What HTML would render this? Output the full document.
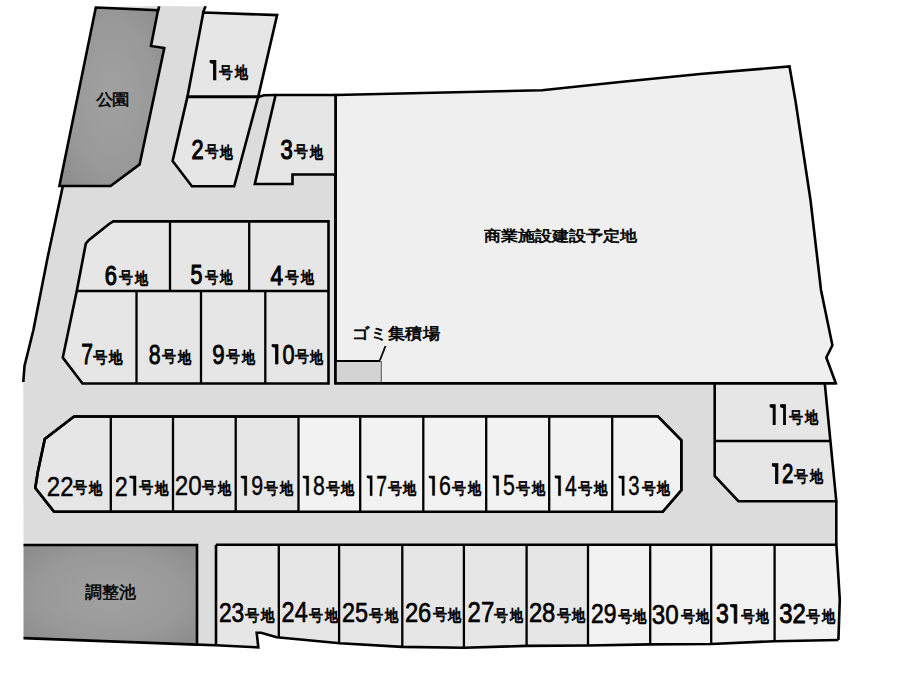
<!DOCTYPE html>
<html><head><meta charset="utf-8"><style>
html,body{margin:0;padding:0;background:#fff;width:900px;height:673px;overflow:hidden}
svg{display:block}
text{font-family:"Liberation Sans", sans-serif;fill:#000} path{fill:#000}
</style></head><body>
<svg width="900" height="673" viewBox="0 0 900 673">
<defs><radialGradient id="gd" cx="0.5" cy="0.5" r="0.7"><stop offset="0" stop-color="#a1a1a1"/><stop offset="0.6" stop-color="#999999"/><stop offset="1" stop-color="#8a8a8a"/></radialGradient></defs>
<rect x="875" y="0" width="25" height="673" fill="#fefefe"/>
<polygon points="159,6 206,6.5 187.4,96.9 258.2,96.9 264,95.3 335.5,95.0 335.5,383 824.8,383 836.3,501.2 836.3,544.8 216,544.8 216,645.3 197,645.3 197,545 23.5,545 23.3,382 24.5,366 33.4,330 47.5,258 62.8,186 96,7" fill="#dcdcdc"/>
<polyline points="62.8,186.3 47.5,258 33.4,330 24.5,366 23.3,382" fill="none" stroke="#000" stroke-width="2.6" stroke-linejoin="miter" stroke-miterlimit="3" stroke-linecap="butt"/>
<polyline points="836.3,501.2 836.3,544.5" fill="none" stroke="#000" stroke-width="2.6" stroke-linejoin="miter" stroke-miterlimit="3" stroke-linecap="butt"/>
<polygon points="95.8,7.5 158,10.2 151,46 164.3,48 139.6,164.4 110.6,186 59.4,186" fill="url(#gd)" stroke="#000" stroke-width="2.6" stroke-linejoin="miter" stroke-miterlimit="3" />
<polyline points="157.6,12 159.2,6.3" fill="none" stroke="#000" stroke-width="2.6" stroke-linejoin="miter" stroke-miterlimit="3" stroke-linecap="butt"/>
<polygon points="335.5,95.0 542,90.3 620,82 700,74 789.5,66.5 795.6,101.6 810.5,200 821,290 832.4,345.3 826.3,357.5 835.8,383.3 335.5,383.3" fill="#efefef" stroke="#000" stroke-width="2.6" stroke-linejoin="miter" stroke-miterlimit="3" />
<polygon points="336,361 381.3,361 381.3,382 336,382" fill="#d2d2d2" stroke="none"/>
<polyline points="336,361 380.5,361" fill="none" stroke="#000" stroke-width="2.0" stroke-linejoin="miter" stroke-miterlimit="3" stroke-linecap="butt"/>
<line x1="381.3" y1="361" x2="381.3" y2="382" stroke="#555" stroke-width="1"/>
<polygon points="379,360 381,360 386.5,346 384.5,346" fill="#111"/>
<polyline points="335.5,95.0 335.5,383.3 835.8,383.3" fill="none" stroke="#000" stroke-width="2.6" stroke-linejoin="miter" stroke-miterlimit="3" stroke-linecap="butt"/>
<polygon points="203.3,12.5 277.1,15.1 258.2,96.9 187.4,96.9" fill="#e6e6e6" stroke="#000" stroke-width="2.6" stroke-linejoin="miter" stroke-miterlimit="3" />
<polyline points="205.6,6.3 202.8,13" fill="none" stroke="#000" stroke-width="2.6" stroke-linejoin="miter" stroke-miterlimit="3" stroke-linecap="butt"/>
<polygon points="187.4,96.9 258.2,96.9 234.2,186.3 191.9,186.3 172.6,161" fill="#e6e6e6" stroke="#000" stroke-width="2.6" stroke-linejoin="miter" stroke-miterlimit="3" />
<polygon points="275.6,95.0 335.5,95.0 335.5,174.5 292.5,174.5 292.5,184 254.8,184" fill="#e6e6e6" stroke="#000" stroke-width="2.6" stroke-linejoin="miter" stroke-miterlimit="3" />
<polyline points="258.2,96.9 264,95.3 275.6,95.0" fill="none" stroke="#000" stroke-width="2.6" stroke-linejoin="miter" stroke-miterlimit="3" stroke-linecap="butt"/>
<polygon points="113.3,221.4 328.5,221.4 328.5,383.5 82.5,383.5 62.8,357.6 76.8,290.7 85.8,243.7 89,240 110,223.3" fill="#e6e6e6" stroke="#000" stroke-width="2.6" stroke-linejoin="miter" stroke-miterlimit="3" />
<polyline points="76.8,291 328.5,291" fill="none" stroke="#000" stroke-width="2.3" stroke-linejoin="miter" stroke-miterlimit="3" stroke-linecap="butt"/>
<polyline points="170,221.4 170,291" fill="none" stroke="#000" stroke-width="2.3" stroke-linejoin="miter" stroke-miterlimit="3" stroke-linecap="butt"/>
<polyline points="249.2,221.4 249.2,291" fill="none" stroke="#000" stroke-width="2.3" stroke-linejoin="miter" stroke-miterlimit="3" stroke-linecap="butt"/>
<polyline points="136.5,291 136.5,383.5" fill="none" stroke="#000" stroke-width="2.3" stroke-linejoin="miter" stroke-miterlimit="3" stroke-linecap="butt"/>
<polyline points="201,291 201,383.5" fill="none" stroke="#000" stroke-width="2.3" stroke-linejoin="miter" stroke-miterlimit="3" stroke-linecap="butt"/>
<polyline points="265.3,291 265.3,383.5" fill="none" stroke="#000" stroke-width="2.3" stroke-linejoin="miter" stroke-miterlimit="3" stroke-linecap="butt"/>
<polygon points="714.7,383.5 824.8,383.5 836.3,501.2 738.4,501.2 714.7,476" fill="#e6e6e6" stroke="#000" stroke-width="2.6" stroke-linejoin="miter" stroke-miterlimit="3" />
<polyline points="714.7,441 830.6,441" fill="none" stroke="#000" stroke-width="2.3" stroke-linejoin="miter" stroke-miterlimit="3" stroke-linecap="butt"/>
<polygon points="74,416.5 658,416.5 681.3,440.4 681.3,490.2 662.7,511.7 54,511.7 35.3,488 37.8,472 44.8,439" fill="#e6e6e6" stroke="#000" stroke-width="2.6" stroke-linejoin="miter" stroke-miterlimit="3" />
<polygon points="298.5,416.5 658,416.5 681.3,440.4 681.3,490.2 662.7,511.7 298.5,511.7" fill="#f2f2f2"/>
<polyline points="74,416.5 658,416.5 681.3,440.4 681.3,490.2 662.7,511.7 54,511.7 35.3,488 37.8,472 44.8,439 74,416.5" fill="none" stroke="#000" stroke-width="2.6" stroke-linejoin="miter" stroke-miterlimit="3" stroke-linecap="butt"/>
<polyline points="110.8,416.5 110.8,511.7" fill="none" stroke="#000" stroke-width="2.3" stroke-linejoin="miter" stroke-miterlimit="3" stroke-linecap="butt"/>
<polyline points="173,416.5 173,511.7" fill="none" stroke="#000" stroke-width="2.3" stroke-linejoin="miter" stroke-miterlimit="3" stroke-linecap="butt"/>
<polyline points="235.7,416.5 235.7,511.7" fill="none" stroke="#000" stroke-width="2.3" stroke-linejoin="miter" stroke-miterlimit="3" stroke-linecap="butt"/>
<polyline points="298.5,416.5 298.5,511.7" fill="none" stroke="#000" stroke-width="2.3" stroke-linejoin="miter" stroke-miterlimit="3" stroke-linecap="butt"/>
<polyline points="360.2,416.5 360.2,511.7" fill="none" stroke="#000" stroke-width="2.3" stroke-linejoin="miter" stroke-miterlimit="3" stroke-linecap="butt"/>
<polyline points="423.3,416.5 423.3,511.7" fill="none" stroke="#000" stroke-width="2.3" stroke-linejoin="miter" stroke-miterlimit="3" stroke-linecap="butt"/>
<polyline points="486.2,416.5 486.2,511.7" fill="none" stroke="#000" stroke-width="2.3" stroke-linejoin="miter" stroke-miterlimit="3" stroke-linecap="butt"/>
<polyline points="549.2,416.5 549.2,511.7" fill="none" stroke="#000" stroke-width="2.3" stroke-linejoin="miter" stroke-miterlimit="3" stroke-linecap="butt"/>
<polyline points="612.2,416.5 612.2,511.7" fill="none" stroke="#000" stroke-width="2.3" stroke-linejoin="miter" stroke-miterlimit="3" stroke-linecap="butt"/>
<polygon points="23.5,545 197,545 197,645.3 23.5,638.1" fill="url(#gd)"/>
<polyline points="23.5,545 197,545 197,645.3" fill="none" stroke="#000" stroke-width="2.6" stroke-linejoin="miter" stroke-miterlimit="3" stroke-linecap="butt"/>
<polygon points="216,544.8 278.8,544.8 278.8,637.4990521327014 276.7,637.3 261.1,632.8 256.7,632.8 258.3,647.4 216,645.1482815057284" fill="#e6e6e6"/>
<polygon points="278.8,544.8 339.1,544.8 339.1,643.214691943128 278.8,637.4990521327014" fill="#e6e6e6"/>
<polygon points="339.1,544.8 402.3,544.8 402.3,646.9012965964343 402.2,646.9 340,643.3 339.1,643.214691943128" fill="#e6e6e6"/>
<polygon points="402.3,544.8 463.9,544.8 463.9,647.7 402.3,646.9012965964343" fill="#e6e6e6"/>
<polygon points="463.9,544.8 526.6,544.8 526.6,645.9 463.9,647.7" fill="#e6e6e6"/>
<polygon points="526.6,544.8 588.0,544.8 588.0,645.5 526.6,645.9" fill="#e6e6e6"/>
<polygon points="588.0,544.8 650.2,544.8 650.2,644.4 588.0,645.5" fill="#f2f2f2"/>
<polygon points="650.2,544.8 711.2,544.8 711.2,644.0 650.2,644.4" fill="#f2f2f2"/>
<polygon points="711.2,544.8 774.6,544.8 774.6,641.2 711.2,644.0" fill="#f2f2f2"/>
<polygon points="774.6,544.8 836.4,544.8 839.8,599.5 838.4,640 774.6,641.2" fill="#f2f2f2"/>
<polyline points="216,544.8 836.4,544.8 839.8,599.5 838.4,640" fill="none" stroke="#000" stroke-width="2.6" stroke-linejoin="miter" stroke-miterlimit="3" stroke-linecap="butt"/>
<polyline points="278.8,544.8 278.8,637.4990521327014" fill="none" stroke="#000" stroke-width="2.3" stroke-linejoin="miter" stroke-miterlimit="3" stroke-linecap="butt"/>
<polyline points="339.1,544.8 339.1,643.214691943128" fill="none" stroke="#000" stroke-width="2.3" stroke-linejoin="miter" stroke-miterlimit="3" stroke-linecap="butt"/>
<polyline points="402.3,544.8 402.3,646.9012965964343" fill="none" stroke="#000" stroke-width="2.3" stroke-linejoin="miter" stroke-miterlimit="3" stroke-linecap="butt"/>
<polyline points="463.9,544.8 463.9,647.7" fill="none" stroke="#000" stroke-width="2.3" stroke-linejoin="miter" stroke-miterlimit="3" stroke-linecap="butt"/>
<polyline points="526.6,544.8 526.6,645.9" fill="none" stroke="#000" stroke-width="2.3" stroke-linejoin="miter" stroke-miterlimit="3" stroke-linecap="butt"/>
<polyline points="588.0,544.8 588.0,645.5" fill="none" stroke="#000" stroke-width="2.3" stroke-linejoin="miter" stroke-miterlimit="3" stroke-linecap="butt"/>
<polyline points="650.2,544.8 650.2,644.4" fill="none" stroke="#000" stroke-width="2.3" stroke-linejoin="miter" stroke-miterlimit="3" stroke-linecap="butt"/>
<polyline points="711.2,544.8 711.2,644.0" fill="none" stroke="#000" stroke-width="2.3" stroke-linejoin="miter" stroke-miterlimit="3" stroke-linecap="butt"/>
<polyline points="774.6,544.8 774.6,641.2" fill="none" stroke="#000" stroke-width="2.3" stroke-linejoin="miter" stroke-miterlimit="3" stroke-linecap="butt"/>
<polyline points="216,544.8 216,645.1482815057284" fill="none" stroke="#000" stroke-width="2.6" stroke-linejoin="miter" stroke-miterlimit="3" stroke-linecap="butt"/>
<polyline points="23.5,638.1 190,644.4 215.6,645.2 258.3,647.4 256.7,632.8 261.1,632.8 276.7,637.3 340,643.3 402.2,646.9 463.9,647.7 526.6,645.9 588,645.5 650.2,644.4 711.2,644 774.6,641.2 838.4,640" fill="none" stroke="#000" stroke-width="2.6" stroke-linejoin="miter" stroke-miterlimit="3" stroke-linecap="butt"/>
<g transform="translate(208.44,79.74) scale(0.7021,0.9269)"><g transform="translate(0.00,0)" stroke="#000" stroke-width="1.2"><path d="M2.4,-20.7 L10.6,-20.7 L10.6,0 L7.2,0 L7.2,-17.6 L2.4,-18.6 Z"/></g></g>
<text transform="translate(219.38,78.06) scale(0.8114,0.9387)" font-size="17" stroke="#000" stroke-width="0.8">号</text>
<text transform="translate(234.74,78.41) scale(0.7711,0.9524)" font-size="17" stroke="#000" stroke-width="1.0">地</text>
<g transform="translate(191.55,159.14) scale(0.7248,0.9412)"><text x="0.00" y="0" font-size="30" stroke="#000" stroke-width="1.2">2</text></g>
<text transform="translate(205.08,157.46) scale(0.8000,0.9387)" font-size="17" stroke="#000" stroke-width="0.8">号</text>
<text transform="translate(220.22,157.81) scale(0.7605,0.9524)" font-size="17" stroke="#000" stroke-width="1.0">地</text>
<g transform="translate(280.56,158.87) scale(0.7338,0.9241)"><text x="0.00" y="0" font-size="30" stroke="#000" stroke-width="1.2">3</text></g>
<text transform="translate(294.08,157.46) scale(0.8200,0.9387)" font-size="17" stroke="#000" stroke-width="0.8">号</text>
<text transform="translate(309.60,157.81) scale(0.7790,0.9524)" font-size="17" stroke="#000" stroke-width="1.0">地</text>
<g transform="translate(270.43,284.55) scale(0.7485,0.9087)"><text x="0.00" y="0" font-size="30" stroke="#000" stroke-width="1.2">4</text></g>
<text transform="translate(285.28,282.86) scale(0.8200,0.9387)" font-size="17" stroke="#000" stroke-width="0.8">号</text>
<text transform="translate(300.80,283.21) scale(0.7790,0.9524)" font-size="17" stroke="#000" stroke-width="1.0">地</text>
<g transform="translate(190.57,284.48) scale(0.7143,0.9144)"><text x="0.00" y="0" font-size="30" stroke="#000" stroke-width="1.2">5</text></g>
<text transform="translate(205.38,283.06) scale(0.7829,0.9387)" font-size="17" stroke="#000" stroke-width="0.8">号</text>
<text transform="translate(220.19,283.41) scale(0.7445,0.9524)" font-size="17" stroke="#000" stroke-width="1.0">地</text>
<g transform="translate(104.64,284.66) scale(0.7285,0.9286)"><text x="0.00" y="0" font-size="30" stroke="#000" stroke-width="1.2">6</text></g>
<text transform="translate(119.38,283.26) scale(0.8200,0.9387)" font-size="17" stroke="#000" stroke-width="0.8">号</text>
<text transform="translate(134.90,283.61) scale(0.7790,0.9524)" font-size="17" stroke="#000" stroke-width="1.0">地</text>
<g transform="translate(81.16,364.46) scale(0.7055,0.9769)"><text x="0.00" y="0" font-size="30" stroke="#000" stroke-width="0.9">7</text></g>
<text transform="translate(92.78,362.66) scale(0.8486,0.9387)" font-size="17" stroke="#000" stroke-width="0.8">号</text>
<text transform="translate(108.84,363.01) scale(0.8056,0.9524)" font-size="17" stroke="#000" stroke-width="1.0">地</text>
<g transform="translate(148.69,364.00) scale(0.7133,0.9367)"><text x="0.00" y="0" font-size="30" stroke="#000" stroke-width="0.9">8</text></g>
<text transform="translate(162.38,362.46) scale(0.8286,0.9387)" font-size="17" stroke="#000" stroke-width="0.8">号</text>
<text transform="translate(178.06,362.81) scale(0.7870,0.9524)" font-size="17" stroke="#000" stroke-width="1.0">地</text>
<g transform="translate(212.29,364.00) scale(0.7432,0.9367)"><text x="0.00" y="0" font-size="30" stroke="#000" stroke-width="0.9">9</text></g>
<text transform="translate(226.08,362.46) scale(0.8200,0.9387)" font-size="17" stroke="#000" stroke-width="0.8">号</text>
<text transform="translate(241.60,362.81) scale(0.7790,0.9524)" font-size="17" stroke="#000" stroke-width="1.0">地</text>
<g transform="translate(270.28,364.00) scale(0.7269,0.9367)"><g transform="translate(0.00,0)" stroke="#000" stroke-width="0.9"><path d="M2.4,-20.7 L10.6,-20.7 L10.6,0 L7.2,0 L7.2,-17.6 L2.4,-18.6 Z"/></g><text x="16.68" y="0" font-size="30" stroke="#000" stroke-width="0.9">0</text></g>
<text transform="translate(294.78,362.46) scale(0.8171,0.9387)" font-size="17" stroke="#000" stroke-width="0.8">号</text>
<text transform="translate(310.25,362.81) scale(0.7764,0.9524)" font-size="17" stroke="#000" stroke-width="1.0">地</text>
<g transform="translate(768.58,424.34) scale(0.6250,0.9406)"><g transform="translate(0.00,0)" stroke="#000" stroke-width="1.2"><path d="M2.4,-20.7 L10.6,-20.7 L10.6,0 L7.2,0 L7.2,-17.6 L2.4,-18.6 Z"/></g><g transform="translate(16.68,0)" stroke="#000" stroke-width="1.2"><path d="M2.4,-20.7 L10.6,-20.7 L10.6,0 L7.2,0 L7.2,-17.6 L2.4,-18.6 Z"/></g></g>
<text transform="translate(789.28,422.66) scale(0.8314,0.9387)" font-size="17" stroke="#000" stroke-width="0.8">号</text>
<text transform="translate(805.02,423.01) scale(0.7897,0.9524)" font-size="17" stroke="#000" stroke-width="1.0">地</text>
<g transform="translate(770.67,483.33) scale(0.6812,0.9457)"><g transform="translate(0.00,0)" stroke="#000" stroke-width="1.2"><path d="M2.4,-20.7 L10.6,-20.7 L10.6,0 L7.2,0 L7.2,-17.6 L2.4,-18.6 Z"/></g><text x="16.68" y="0" font-size="30" stroke="#000" stroke-width="1.2">2</text></g>
<text transform="translate(794.38,481.66) scale(0.8229,0.9387)" font-size="17" stroke="#000" stroke-width="0.8">号</text>
<text transform="translate(809.95,482.01) scale(0.7817,0.9524)" font-size="17" stroke="#000" stroke-width="1.0">地</text>
<g transform="translate(46.76,495.51) scale(0.8025,0.9484)"><text x="0.00" y="0" font-size="30" stroke="#000" stroke-width="0.4">2</text><text x="16.68" y="0" font-size="30" stroke="#000" stroke-width="0.4">2</text></g>
<text transform="translate(73.28,493.46) scale(0.8286,0.9387)" font-size="17" stroke="#000" stroke-width="0.8">号</text>
<text transform="translate(88.96,493.81) scale(0.7870,0.9524)" font-size="17" stroke="#000" stroke-width="1.0">地</text>
<g transform="translate(114.79,495.51) scale(0.7792,0.9484)"><text x="0.00" y="0" font-size="30" stroke="#000" stroke-width="0.4">2</text><g transform="translate(16.68,0)" stroke="#000" stroke-width="0.4"><path d="M2.4,-20.7 L10.6,-20.7 L10.6,0 L7.2,0 L7.2,-17.6 L2.4,-18.6 Z"/></g></g>
<text transform="translate(138.98,493.46) scale(0.8457,0.9387)" font-size="17" stroke="#000" stroke-width="0.8">号</text>
<text transform="translate(154.99,493.81) scale(0.8029,0.9524)" font-size="17" stroke="#000" stroke-width="1.0">地</text>
<g transform="translate(174.75,495.23) scale(0.8076,0.9352)"><text x="0.00" y="0" font-size="30" stroke="#000" stroke-width="0.4">2</text><text x="16.68" y="0" font-size="30" stroke="#000" stroke-width="0.4">0</text></g>
<text transform="translate(202.38,493.46) scale(0.8257,0.9387)" font-size="17" stroke="#000" stroke-width="0.8">号</text>
<text transform="translate(218.01,493.81) scale(0.7844,0.9524)" font-size="17" stroke="#000" stroke-width="1.0">地</text>
<g transform="translate(239.23,495.43) scale(0.7138,0.9444)"><g transform="translate(0.00,0)" stroke="#000" stroke-width="0.4"><path d="M2.4,-20.7 L10.6,-20.7 L10.6,0 L7.2,0 L7.2,-17.6 L2.4,-18.6 Z"/></g><text x="16.68" y="0" font-size="30" stroke="#000" stroke-width="0.4">9</text></g>
<text transform="translate(264.28,493.66) scale(0.8286,0.9387)" font-size="17" stroke="#000" stroke-width="0.8">号</text>
<text transform="translate(279.96,494.01) scale(0.7870,0.9524)" font-size="17" stroke="#000" stroke-width="1.0">地</text>
<g transform="translate(301.23,495.43) scale(0.7114,0.9444)"><g transform="translate(0.00,0)" stroke="#000" stroke-width="0.4"><path d="M2.4,-20.7 L10.6,-20.7 L10.6,0 L7.2,0 L7.2,-17.6 L2.4,-18.6 Z"/></g><text x="16.68" y="0" font-size="30" stroke="#000" stroke-width="0.4">8</text></g>
<text transform="translate(325.58,493.66) scale(0.8286,0.9387)" font-size="17" stroke="#000" stroke-width="0.8">号</text>
<text transform="translate(341.26,494.01) scale(0.7870,0.9524)" font-size="17" stroke="#000" stroke-width="1.0">地</text>
<g transform="translate(365.38,495.71) scale(0.6459,0.9668)"><g transform="translate(0.00,0)" stroke="#000" stroke-width="0.4"><path d="M2.4,-20.7 L10.6,-20.7 L10.6,0 L7.2,0 L7.2,-17.6 L2.4,-18.6 Z"/></g><text x="16.68" y="0" font-size="30" stroke="#000" stroke-width="0.4">7</text></g>
<text transform="translate(387.58,493.66) scale(0.8257,0.9387)" font-size="17" stroke="#000" stroke-width="0.8">号</text>
<text transform="translate(403.21,494.01) scale(0.7844,0.9524)" font-size="17" stroke="#000" stroke-width="1.0">地</text>
<g transform="translate(427.23,495.43) scale(0.7114,0.9444)"><g transform="translate(0.00,0)" stroke="#000" stroke-width="0.4"><path d="M2.4,-20.7 L10.6,-20.7 L10.6,0 L7.2,0 L7.2,-17.6 L2.4,-18.6 Z"/></g><text x="16.68" y="0" font-size="30" stroke="#000" stroke-width="0.4">6</text></g>
<text transform="translate(452.28,493.66) scale(0.8257,0.9387)" font-size="17" stroke="#000" stroke-width="0.8">号</text>
<text transform="translate(467.91,494.01) scale(0.7844,0.9524)" font-size="17" stroke="#000" stroke-width="1.0">地</text>
<g transform="translate(491.23,495.42) scale(0.7114,0.9533)"><g transform="translate(0.00,0)" stroke="#000" stroke-width="0.4"><path d="M2.4,-20.7 L10.6,-20.7 L10.6,0 L7.2,0 L7.2,-17.6 L2.4,-18.6 Z"/></g><text x="16.68" y="0" font-size="30" stroke="#000" stroke-width="0.4">5</text></g>
<text transform="translate(516.28,493.66) scale(0.8286,0.9387)" font-size="17" stroke="#000" stroke-width="0.8">号</text>
<text transform="translate(531.96,494.01) scale(0.7870,0.9524)" font-size="17" stroke="#000" stroke-width="1.0">地</text>
<g transform="translate(553.26,495.71) scale(0.7021,0.9668)"><g transform="translate(0.00,0)" stroke="#000" stroke-width="0.4"><path d="M2.4,-20.7 L10.6,-20.7 L10.6,0 L7.2,0 L7.2,-17.6 L2.4,-18.6 Z"/></g><text x="16.68" y="0" font-size="30" stroke="#000" stroke-width="0.4">4</text></g>
<text transform="translate(577.58,493.66) scale(0.8457,0.9387)" font-size="17" stroke="#000" stroke-width="0.8">号</text>
<text transform="translate(593.59,494.01) scale(0.8029,0.9524)" font-size="17" stroke="#000" stroke-width="1.0">地</text>
<g transform="translate(617.12,495.43) scale(0.6749,0.9444)"><g transform="translate(0.00,0)" stroke="#000" stroke-width="0.4"><path d="M2.4,-20.7 L10.6,-20.7 L10.6,0 L7.2,0 L7.2,-17.6 L2.4,-18.6 Z"/></g><text x="16.68" y="0" font-size="30" stroke="#000" stroke-width="0.4">3</text></g>
<text transform="translate(641.68,493.66) scale(0.8086,0.9387)" font-size="17" stroke="#000" stroke-width="0.8">号</text>
<text transform="translate(656.98,494.01) scale(0.7684,0.9524)" font-size="17" stroke="#000" stroke-width="1.0">地</text>
<g transform="translate(218.93,622.19) scale(0.7609,0.9452)"><text x="0.00" y="0" font-size="30" stroke="#000" stroke-width="0.7">2</text><text x="16.68" y="0" font-size="30" stroke="#000" stroke-width="0.7">3</text></g>
<text transform="translate(245.38,620.56) scale(0.8457,0.9387)" font-size="17" stroke="#000" stroke-width="0.8">号</text>
<text transform="translate(261.39,620.91) scale(0.8029,0.9524)" font-size="17" stroke="#000" stroke-width="1.0">地</text>
<g transform="translate(281.60,622.46) scale(0.7828,0.9583)"><text x="0.00" y="0" font-size="30" stroke="#000" stroke-width="0.7">2</text><text x="16.68" y="0" font-size="30" stroke="#000" stroke-width="0.7">4</text></g>
<text transform="translate(309.08,620.56) scale(0.8171,0.9387)" font-size="17" stroke="#000" stroke-width="0.8">号</text>
<text transform="translate(324.55,620.91) scale(0.7764,0.9524)" font-size="17" stroke="#000" stroke-width="1.0">地</text>
<g transform="translate(341.90,622.19) scale(0.7801,0.9452)"><text x="0.00" y="0" font-size="30" stroke="#000" stroke-width="0.7">2</text><text x="16.68" y="0" font-size="30" stroke="#000" stroke-width="0.7">5</text></g>
<text transform="translate(369.08,620.56) scale(0.8343,0.9387)" font-size="17" stroke="#000" stroke-width="0.8">号</text>
<text transform="translate(384.87,620.91) scale(0.7923,0.9524)" font-size="17" stroke="#000" stroke-width="1.0">地</text>
<g transform="translate(404.89,621.99) scale(0.7928,0.9361)"><text x="0.00" y="0" font-size="30" stroke="#000" stroke-width="0.7">2</text><text x="16.68" y="0" font-size="30" stroke="#000" stroke-width="0.7">6</text></g>
<text transform="translate(432.78,620.36) scale(0.8257,0.9387)" font-size="17" stroke="#000" stroke-width="0.8">号</text>
<text transform="translate(448.41,620.71) scale(0.7844,0.9524)" font-size="17" stroke="#000" stroke-width="1.0">地</text>
<g transform="translate(467.58,622.46) scale(0.7979,0.9583)"><text x="0.00" y="0" font-size="30" stroke="#000" stroke-width="0.7">2</text><text x="16.68" y="0" font-size="30" stroke="#000" stroke-width="0.7">7</text></g>
<text transform="translate(494.38,620.56) scale(0.8171,0.9387)" font-size="17" stroke="#000" stroke-width="0.8">号</text>
<text transform="translate(509.85,620.91) scale(0.7764,0.9524)" font-size="17" stroke="#000" stroke-width="1.0">地</text>
<g transform="translate(528.89,622.19) scale(0.7928,0.9452)"><text x="0.00" y="0" font-size="30" stroke="#000" stroke-width="0.7">2</text><text x="16.68" y="0" font-size="30" stroke="#000" stroke-width="0.7">8</text></g>
<text transform="translate(556.78,620.56) scale(0.8257,0.9387)" font-size="17" stroke="#000" stroke-width="0.8">号</text>
<text transform="translate(572.41,620.91) scale(0.7844,0.9524)" font-size="17" stroke="#000" stroke-width="1.0">地</text>
<g transform="translate(590.92,623.40) scale(0.7633,0.9269)"><text x="0.00" y="0" font-size="30" stroke="#000" stroke-width="0.7">2</text><text x="16.68" y="0" font-size="30" stroke="#000" stroke-width="0.7">9</text></g>
<text transform="translate(617.58,621.76) scale(0.8400,0.9387)" font-size="17" stroke="#000" stroke-width="0.8">号</text>
<text transform="translate(633.48,622.11) scale(0.7976,0.9524)" font-size="17" stroke="#000" stroke-width="1.0">地</text>
<g transform="translate(651.72,623.60) scale(0.8049,0.9224)"><text x="0.00" y="0" font-size="30" stroke="#000" stroke-width="0.7">3</text><text x="16.68" y="0" font-size="30" stroke="#000" stroke-width="0.7">0</text></g>
<text transform="translate(680.78,621.96) scale(0.8257,0.9387)" font-size="17" stroke="#000" stroke-width="0.8">号</text>
<text transform="translate(696.41,622.31) scale(0.7844,0.9524)" font-size="17" stroke="#000" stroke-width="1.0">地</text>
<g transform="translate(715.96,623.18) scale(0.7644,0.8964)"><text x="0.00" y="0" font-size="30" stroke="#000" stroke-width="1.0">3</text><g transform="translate(16.68,0)" stroke="#000" stroke-width="1.0"><path d="M2.4,-20.7 L10.6,-20.7 L10.6,0 L7.2,0 L7.2,-17.6 L2.4,-18.6 Z"/></g></g>
<text transform="translate(740.68,621.66) scale(0.8057,0.9387)" font-size="17" stroke="#000" stroke-width="0.8">号</text>
<text transform="translate(755.93,622.01) scale(0.7658,0.9524)" font-size="17" stroke="#000" stroke-width="1.0">地</text>
<g transform="translate(779.24,623.18) scale(0.7955,0.9009)"><text x="0.00" y="0" font-size="30" stroke="#000" stroke-width="1.0">3</text><text x="16.68" y="0" font-size="30" stroke="#000" stroke-width="1.0">2</text></g>
<text transform="translate(806.38,621.66) scale(0.8286,0.9387)" font-size="17" stroke="#000" stroke-width="0.8">号</text>
<text transform="translate(822.06,622.01) scale(0.7870,0.9524)" font-size="17" stroke="#000" stroke-width="1.0">地</text>
<text transform="translate(95.85,105.14) scale(1.0061,0.9273)" font-size="17" stroke="#000" stroke-width="0.5">公園</text>
<text transform="translate(484.25,240.55) scale(1.0072,0.8851)" font-size="17" stroke="#000" stroke-width="0.7">商業施設建設予定地</text>
<text transform="translate(352.44,338.63) scale(1.0048,0.9353)" font-size="17" stroke="#000" stroke-width="0.7">ゴミ集積場</text>
<text transform="translate(84.85,597.55) scale(1.0000,1.0000)" font-size="17" stroke="#000" stroke-width="0.5">調整池</text>
</svg>
</body></html>
